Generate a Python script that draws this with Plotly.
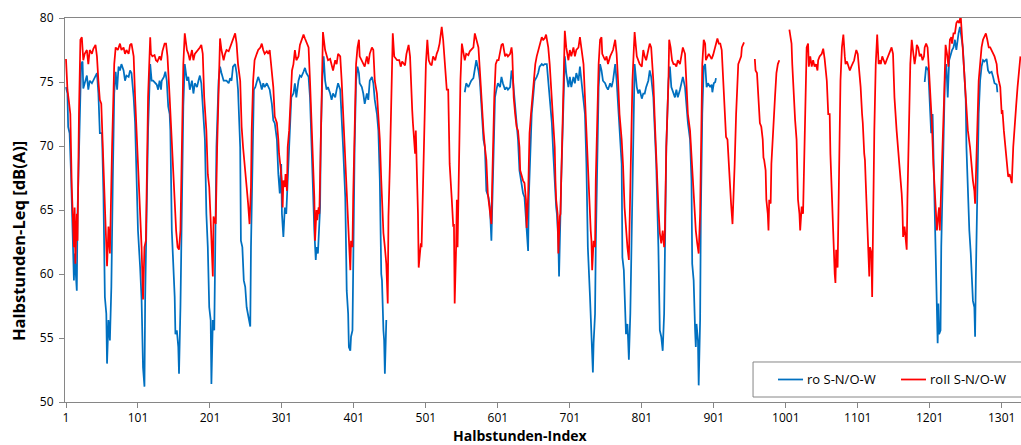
import plotly.graph_objects as go

# Halbstunden-Index -> Leq [dB(A)], one list of (index, value) pairs per continuous run.
blue_run_1 = [
    (1, 74.6), (3, 74.1), (4, 71.5), (6, 71.0), (8, 67.8), (9, 65.5), (10, 64.2), (12, 59.5), (13, 61.6),
    (14, 60.5), (16, 58.7), (17, 64.7), (19, 69.9), (21, 75.1), (22, 76.4), (24, 76.6), (25, 74.5), (27, 74.9),
    (30, 75.5), (32, 74.4), (34, 75.1), (37, 74.9), (39, 75.1), (41, 75.4), (44, 75.7), (46, 74.1), (48, 71.0),
    (51, 71.0), (53, 66.3), (55, 58.2), (57, 56.9), (58, 53.0), (60, 56.4), (62, 54.8), (64, 59.0), (66, 67.3),
    (68, 74.1), (70, 75.8), (72, 74.4), (74, 76.2), (76, 75.9), (78, 76.4), (81, 75.9), (83, 75.1), (85, 75.5),
    (88, 75.4), (90, 75.9), (92, 75.7), (95, 73.8), (97, 71.8), (99, 67.8), (101, 63.4), (104, 60.5), (106, 58.0),
    (108, 52.7), (110, 51.2), (111, 58.2), (113, 64.7), (115, 71.2), (118, 76.4), (120, 75.1), (122, 75.1),
    (125, 74.9), (127, 74.8), (129, 74.4), (131, 75.1), (133, 74.4), (134, 75.1), (137, 75.4), (139, 75.8),
    (141, 75.1), (143, 73.1), (145, 72.5), (146, 71.2), (148, 63.4), (150, 60.8), (152, 58.2), (153, 55.3),
    (155, 55.6), (157, 54.3), (158, 52.2), (160, 57.4), (162, 64.7), (164, 73.1), (166, 76.4), (169, 75.1),
    (171, 75.4), (173, 74.4), (176, 75.1), (178, 74.1), (180, 74.9), (183, 74.6), (185, 75.1), (187, 75.5),
    (189, 74.9), (192, 72.5), (194, 70.5), (196, 64.7), (198, 62.1), (200, 57.4), (202, 56.4), (203, 51.4),
    (205, 56.4), (207, 55.6), (208, 62.1), (210, 69.9), (213, 75.1), (215, 76.2), (217, 75.7), (220, 75.1),
    (222, 75.1), (224, 75.1), (227, 74.9), (229, 75.3), (231, 75.1), (233, 76.2), (236, 76.4), (238, 75.7),
    (240, 74.4), (243, 69.9), (244, 62.6), (246, 62.1), (248, 59.5), (250, 59.0), (252, 57.4), (254, 56.9),
    (257, 55.9), (258, 62.1), (260, 69.9), (262, 74.4), (264, 74.6), (266, 75.1), (268, 75.4), (271, 74.9),
    (273, 74.4), (275, 74.9), (277, 74.6), (280, 74.9), (282, 74.6), (284, 74.4), (287, 73.3), (289, 72.0),
    (291, 71.8), (294, 70.5), (296, 67.8), (298, 66.3), (300, 68.6), (301, 64.7), (303, 62.9), (305, 65.2),
    (307, 64.7), (308, 66.0), (310, 68.6), (312, 71.2), (314, 73.8), (317, 74.1), (319, 74.9), (321, 73.8),
    (324, 75.1), (326, 75.5), (328, 75.4), (331, 75.8), (333, 76.1), (335, 75.7), (338, 75.4), (340, 73.8),
    (342, 69.9), (345, 65.8), (346, 63.4), (348, 61.1), (349, 62.1), (351, 61.6), (352, 63.4), (354, 65.2),
    (355, 70.5), (357, 75.1), (359, 77.0), (361, 75.1), (363, 74.4), (365, 74.6), (368, 74.1), (370, 73.6),
    (372, 74.1), (375, 73.8), (377, 74.4), (379, 74.9), (382, 74.4), (384, 72.5), (386, 69.9), (389, 66.0),
    (391, 58.7), (393, 56.9), (394, 54.3), (396, 54.0), (397, 55.1), (399, 55.6), (400, 62.1), (402, 69.9),
    (404, 75.1), (406, 76.2), (408, 75.7), (409, 74.9), (412, 74.6), (414, 74.1), (416, 73.3), (419, 74.1),
    (421, 73.6), (423, 75.1), (426, 75.4), (428, 74.9), (430, 73.6), (433, 72.5), (435, 71.2), (437, 67.3),
    (439, 60.0), (440, 59.5), (442, 55.6), (443, 54.8), (444, 52.2), (445, 55.6), (446, 56.4),
]

blue_run_2 = [
    (555, 74.2), (557, 74.9), (560, 74.6), (562, 74.9), (564, 75.1), (567, 75.3), (569, 76.2), (571, 76.7),
    (574, 75.9), (576, 75.1), (578, 73.3), (581, 70.5), (583, 69.9), (585, 66.5), (588, 66.0), (590, 65.2),
    (592, 62.6), (594, 66.8), (595, 69.9), (597, 73.8), (599, 74.4), (601, 74.9), (604, 74.6), (606, 75.4),
    (608, 74.9), (611, 74.4), (613, 74.6), (615, 74.4), (618, 74.6), (620, 75.9), (622, 75.1), (625, 72.8),
    (627, 71.8), (629, 70.5), (631, 68.1), (634, 66.8), (636, 66.3), (638, 66.0), (641, 63.9), (643, 61.8),
    (644, 66.0), (646, 69.9), (648, 72.5), (650, 73.8), (652, 75.1), (655, 75.4), (657, 75.7), (659, 76.2),
    (662, 76.4), (664, 76.3), (666, 76.4), (669, 76.4), (671, 75.1), (673, 73.8), (676, 71.8), (678, 69.4),
    (680, 66.8), (682, 65.2), (683, 64.7), (685, 62.6), (686, 59.8), (687, 63.4), (689, 67.3), (692, 73.1),
    (694, 77.0), (696, 75.7), (699, 74.6), (701, 75.4), (703, 74.6), (706, 75.4), (708, 74.9), (710, 75.7),
    (713, 75.1), (715, 76.2), (717, 75.1), (720, 73.8), (722, 72.5), (724, 68.6), (726, 62.1), (729, 58.2),
    (730, 56.4), (731, 55.3), (733, 52.3), (734, 54.6), (736, 56.9), (737, 62.1), (739, 69.9), (741, 74.6),
    (743, 76.4), (745, 75.9), (747, 75.1), (750, 74.9), (752, 74.6), (754, 74.4), (757, 74.9), (759, 74.6),
    (761, 75.1), (764, 76.4), (766, 75.1), (768, 73.1), (770, 71.2), (773, 68.6), (774, 61.3), (775, 60.8),
    (776, 60.3), (779, 55.3), (781, 56.1), (782, 54.8), (783, 53.3), (785, 56.9), (787, 63.4), (789, 71.2),
    (791, 76.4), (794, 74.6), (796, 74.1), (798, 74.4), (801, 73.7), (803, 74.1), (805, 74.1), (807, 74.6),
    (810, 75.1), (812, 75.9), (814, 75.4), (817, 73.8), (819, 71.2), (821, 68.6), (824, 62.1), (826, 55.6),
    (828, 55.1), (830, 54.0), (832, 56.9), (833, 63.4), (835, 69.9), (838, 75.1), (840, 76.2), (842, 74.6),
    (845, 74.1), (847, 73.8), (849, 74.4), (851, 73.8), (854, 74.4), (856, 74.9), (858, 75.4), (861, 74.6),
    (863, 72.8), (865, 71.8), (868, 70.5), (870, 67.3), (871, 60.8), (873, 59.5), (875, 55.6), (876, 54.3),
    (877, 56.1), (879, 54.8), (880, 51.3), (882, 56.4), (883, 64.7), (885, 72.5), (887, 76.2), (889, 76.4),
    (891, 74.6), (893, 74.9), (896, 74.6), (898, 74.8), (899, 74.2), (901, 74.9), (903, 75.0), (904, 75.3),
]

blue_run_3 = [
    (1194, 75.0), (1196, 76.2), (1199, 75.9), (1201, 73.8), (1203, 71.0), (1205, 72.5), (1207, 67.3),
    (1208, 63.4), (1210, 59.5), (1211, 56.9), (1212, 54.6), (1213, 57.7), (1214, 55.3), (1216, 55.6),
    (1217, 62.1), (1220, 69.9), (1222, 75.1), (1224, 76.4), (1226, 73.8), (1228, 76.7), (1230, 77.2),
    (1232, 77.5), (1234, 77.7), (1236, 78.3), (1238, 77.5), (1240, 78.5), (1241, 78.8), (1243, 79.3),
    (1245, 78.5), (1247, 77.7), (1249, 75.7), (1251, 73.6), (1252, 69.9), (1254, 66.0), (1256, 63.4),
    (1258, 61.6), (1260, 59.0), (1261, 57.9), (1263, 57.4), (1264, 55.1), (1265, 59.5), (1267, 67.3),
    (1269, 72.5), (1271, 75.1), (1273, 76.2), (1275, 76.7), (1277, 76.6), (1280, 76.8), (1282, 75.9),
    (1284, 75.7), (1287, 75.8), (1289, 75.4), (1291, 74.9), (1294, 74.8), (1295, 74.2),
]

red_run_1 = [
    (1, 76.8), (3, 74.4), (5, 73.5), (7, 72.5), (9, 66.8), (10, 64.7), (12, 62.1), (13, 65.2), (14, 60.8),
    (16, 64.7), (17, 62.6), (19, 72.5), (21, 78.3), (23, 78.5), (25, 76.7), (27, 77.2), (30, 77.5), (32, 76.4),
    (34, 77.5), (37, 77.2), (39, 77.6), (42, 77.9), (44, 77.0), (46, 75.1), (48, 73.6), (50, 73.3), (52, 69.9),
    (54, 67.3), (56, 64.2), (58, 60.6), (59, 62.1), (60, 63.7), (62, 61.6), (63, 63.7), (65, 69.9), (68, 76.4),
    (70, 77.7), (73, 77.5), (76, 78.0), (78, 77.5), (81, 77.7), (83, 77.2), (85, 77.5), (88, 77.2), (90, 77.9),
    (92, 78.0), (95, 77.0), (97, 73.8), (99, 71.2), (101, 69.0), (103, 67.0), (106, 62.1), (108, 58.0),
    (110, 62.1), (112, 62.6), (113, 67.3), (115, 73.8), (118, 78.5), (119, 77.2), (121, 77.0), (124, 77.1),
    (126, 76.7), (128, 76.6), (131, 77.0), (133, 76.7), (135, 77.4), (138, 78.0), (140, 78.0), (142, 77.0),
    (145, 73.8), (147, 71.2), (149, 69.1), (152, 66.0), (154, 63.4), (156, 62.1), (158, 61.9), (160, 63.4),
    (162, 69.9), (164, 76.4), (166, 78.8), (169, 77.5), (171, 77.2), (173, 76.7), (176, 77.5), (178, 76.7),
    (180, 77.2), (183, 77.4), (185, 77.5), (187, 77.7), (189, 77.9), (191, 77.2), (193, 73.8), (196, 71.2),
    (198, 67.8), (200, 66.8), (202, 64.2), (203, 62.1), (205, 59.8), (206, 64.5), (208, 64.2), (209, 63.9),
    (211, 69.9), (214, 76.4), (215, 78.4), (217, 77.5), (220, 76.7), (222, 77.2), (224, 77.5), (227, 77.4),
    (229, 77.7), (231, 78.0), (233, 78.3), (236, 78.8), (238, 78.0), (240, 76.4), (243, 75.1), (245, 71.5),
    (247, 69.9), (250, 67.6), (252, 66.8), (254, 65.5), (256, 63.9), (258, 66.8), (259, 71.2), (261, 75.1),
    (263, 76.7), (266, 77.2), (268, 77.5), (271, 77.7), (273, 78.0), (275, 77.5), (277, 77.2), (280, 77.4),
    (282, 77.2), (284, 77.5), (287, 76.0), (289, 74.6), (291, 72.3), (294, 71.8), (296, 70.5), (297, 69.4),
    (299, 68.4), (301, 67.1), (302, 65.2), (303, 67.3), (305, 66.8), (306, 67.8), (308, 66.5), (309, 69.9),
    (311, 71.2), (313, 73.8), (315, 75.9), (317, 76.4), (319, 77.5), (321, 76.7), (324, 77.0), (326, 77.9),
    (328, 78.3), (331, 78.7), (333, 78.4), (335, 78.1), (338, 77.7), (340, 75.1), (342, 72.5), (345, 68.6),
    (346, 66.0), (347, 62.6), (349, 65.0), (350, 64.2), (352, 65.2), (353, 64.7), (354, 67.3), (356, 72.5),
    (357, 77.7), (358, 78.9), (361, 77.5), (363, 77.0), (365, 76.7), (368, 76.8), (370, 76.4), (372, 75.9),
    (375, 76.7), (377, 76.4), (379, 77.2), (382, 77.0), (384, 75.1), (386, 72.5), (389, 69.9), (391, 66.0),
    (393, 64.2), (394, 63.2), (396, 60.3), (397, 62.6), (399, 62.1), (400, 66.0), (402, 71.8), (404, 76.4),
    (406, 77.7), (408, 78.3), (409, 77.0), (412, 76.7), (414, 76.4), (416, 76.2), (419, 77.0), (421, 76.4),
    (423, 77.2), (426, 77.7), (428, 77.5), (430, 75.1), (433, 74.1), (435, 72.5), (437, 70.5), (439, 67.3),
    (442, 63.2), (444, 62.1), (446, 60.8), (448, 57.7), (449, 64.5), (451, 68.6), (453, 74.4), (455, 78.8),
    (457, 77.0), (459, 76.8), (461, 76.7), (464, 76.7), (466, 76.2), (468, 76.6), (470, 76.4), (472, 76.3),
    (474, 77.2), (477, 77.9), (479, 77.0), (480, 75.1), (482, 72.8), (483, 71.8), (485, 69.9), (486, 69.4),
    (487, 71.2), (489, 67.3), (490, 64.7), (491, 60.5), (493, 62.1), (494, 62.4), (495, 62.1), (497, 67.3),
    (499, 72.5), (501, 76.4), (503, 78.3), (505, 76.7), (507, 76.4), (509, 76.3), (511, 77.0), (514, 76.7),
    (516, 77.2), (518, 77.5), (520, 78.0), (523, 79.3), (525, 78.3), (527, 76.4), (530, 74.4), (532, 74.4),
    (534, 68.6), (537, 65.8), (539, 63.7), (540, 63.9), (541, 57.7), (543, 62.1), (544, 65.8), (545, 62.1),
    (547, 69.9), (549, 75.1), (551, 78.0), (553, 77.2), (555, 76.7), (557, 77.2), (560, 77.1), (562, 77.4),
    (564, 77.5), (567, 77.7), (569, 78.8), (571, 78.3), (574, 77.7), (576, 75.9), (578, 73.8), (581, 71.2),
    (583, 69.9), (585, 68.9), (587, 66.3), (588, 65.8), (590, 65.2), (592, 63.9), (593, 66.8), (594, 69.9),
    (596, 73.8), (598, 76.4), (600, 76.7), (602, 76.7), (604, 77.5), (606, 77.9), (608, 78.0), (611, 77.0),
    (613, 77.2), (615, 77.0), (618, 77.2), (620, 77.7), (621, 77.2), (623, 73.8), (625, 72.5), (627, 71.5),
    (629, 71.2), (631, 69.9), (632, 68.1), (634, 67.6), (636, 67.3), (638, 67.1), (640, 65.8), (641, 63.6),
    (643, 66.0), (644, 68.6), (645, 71.0), (647, 72.5), (649, 73.8), (651, 75.7), (653, 76.4), (655, 77.0),
    (657, 77.5), (659, 78.0), (662, 78.5), (664, 78.3), (666, 78.4), (668, 78.7), (671, 77.7), (673, 76.4),
    (676, 73.8), (678, 71.2), (680, 69.9), (681, 67.3), (682, 65.8), (684, 64.7), (685, 61.6), (687, 64.5),
    (688, 64.7), (689, 67.3), (691, 72.5), (693, 77.7), (694, 79.0), (696, 77.7), (699, 76.7), (701, 77.5),
    (703, 77.0), (706, 77.7), (708, 77.0), (710, 77.5), (713, 77.7), (715, 78.5), (717, 77.7), (720, 76.4),
    (722, 73.8), (724, 71.2), (726, 67.8), (728, 64.7), (730, 63.4), (731, 62.6), (732, 60.3), (734, 62.6),
    (736, 62.1), (737, 67.3), (739, 72.5), (741, 76.4), (743, 78.3), (745, 78.5), (746, 77.2), (748, 77.0),
    (750, 76.7), (752, 77.0), (754, 76.4), (757, 77.0), (759, 77.2), (761, 77.5), (764, 78.3), (766, 77.2),
    (768, 75.1), (770, 72.5), (773, 70.5), (775, 68.4), (777, 65.2), (779, 63.7), (780, 62.4), (781, 62.1),
    (783, 61.1), (784, 64.2), (786, 69.9), (788, 75.1), (790, 77.7), (791, 78.9), (794, 77.0), (796, 76.7),
    (798, 76.4), (801, 76.2), (803, 77.5), (805, 77.0), (807, 76.7), (810, 77.5), (812, 78.0), (814, 77.7),
    (817, 75.1), (819, 72.0), (821, 68.6), (824, 65.2), (826, 63.2), (828, 62.4), (830, 63.4), (832, 62.1),
    (833, 63.2), (835, 69.9), (838, 75.1), (839, 78.3), (841, 77.7), (843, 76.7), (845, 76.4), (847, 76.4),
    (849, 76.2), (851, 76.7), (854, 76.4), (856, 77.2), (858, 77.7), (861, 77.2), (863, 75.1), (865, 72.5),
    (868, 71.2), (870, 69.1), (872, 66.8), (875, 64.7), (876, 63.4), (878, 62.4), (880, 61.6), (882, 64.7),
    (883, 69.9), (885, 76.4), (887, 78.3), (889, 78.0), (890, 76.7), (892, 77.0), (894, 77.2), (896, 77.0),
    (898, 76.8), (900, 77.1), (902, 77.5), (905, 78.3), (906, 78.4), (908, 78.0), (910, 78.0), (912, 77.5),
    (914, 75.1), (915, 73.6), (917, 71.2), (918, 70.7), (920, 70.5), (921, 69.4), (922, 68.4), (924, 66.0),
    (925, 65.5), (927, 63.9), (928, 66.3), (930, 68.6), (932, 72.5), (934, 75.1), (935, 76.4), (937, 76.7),
    (939, 77.0), (940, 77.7), (942, 78.1), (943, 78.1),
]

red_run_2 = [
    (958, 76.8), (959, 75.9), (961, 75.7), (963, 74.1), (965, 71.8), (967, 71.5), (969, 70.5), (970, 69.1),
    (971, 68.9), (973, 68.1), (974, 65.8), (976, 64.7), (977, 63.4), (978, 65.8), (980, 65.5), (981, 68.6),
    (983, 71.0), (984, 71.2), (986, 73.8), (988, 75.7), (990, 76.4), (992, 76.7),
]

red_run_3 = [
    (1006, 79.1), (1008, 78.3), (1009, 78.0), (1010, 76.4), (1012, 73.8), (1014, 72.0), (1016, 70.5),
    (1017, 68.9), (1018, 65.8), (1020, 64.7), (1021, 63.4), (1023, 65.2), (1024, 65.2), (1025, 64.7),
    (1027, 69.9), (1028, 73.8), (1030, 77.7), (1032, 78.0), (1033, 76.2), (1035, 77.0), (1037, 76.2),
    (1039, 76.7), (1041, 76.2), (1043, 76.4), (1045, 75.9), (1046, 76.7), (1048, 77.0), (1051, 77.2),
    (1053, 77.6), (1055, 76.8), (1058, 75.1), (1060, 72.5), (1062, 72.5), (1063, 69.4), (1065, 66.0),
    (1066, 64.2), (1067, 63.9), (1069, 60.0), (1070, 59.3), (1071, 61.9), (1073, 60.5), (1074, 64.7),
    (1076, 69.9), (1077, 75.1), (1079, 77.7), (1081, 78.7), (1083, 77.0), (1084, 76.4), (1086, 76.6),
    (1088, 76.2), (1090, 75.9), (1092, 76.2), (1094, 76.4), (1096, 76.7), (1097, 77.0), (1099, 77.5),
    (1101, 77.2), (1103, 75.9), (1105, 74.6), (1107, 72.5), (1108, 71.8), (1110, 69.4), (1111, 68.9),
    (1112, 67.3), (1114, 64.5), (1115, 62.1), (1117, 59.8), (1118, 62.1), (1120, 61.6), (1121, 58.2),
    (1122, 64.7), (1124, 71.2), (1126, 76.4), (1128, 78.7), (1130, 76.4), (1132, 76.7), (1133, 76.4),
    (1135, 77.0), (1137, 76.7), (1139, 76.4), (1141, 76.7), (1143, 77.0), (1146, 77.5), (1148, 77.7),
    (1150, 77.2), (1152, 73.8), (1155, 71.2), (1157, 69.9), (1159, 68.9), (1162, 66.3), (1163, 65.2),
    (1164, 62.9), (1166, 63.7), (1167, 63.2), (1169, 61.9), (1170, 65.8), (1172, 71.2), (1174, 76.4),
    (1176, 78.3), (1178, 77.5), (1180, 76.4), (1182, 77.2), (1183, 77.9), (1185, 77.7), (1187, 77.0),
    (1189, 77.2), (1191, 76.7), (1193, 77.0), (1194, 77.7), (1196, 78.0), (1198, 77.7), (1200, 75.9),
    (1202, 73.8), (1204, 71.8), (1206, 68.6), (1208, 66.0), (1209, 64.7), (1211, 63.4), (1213, 64.7),
    (1214, 65.2), (1215, 63.4), (1216, 64.7), (1218, 68.6), (1221, 73.8), (1223, 77.9), (1225, 77.2),
    (1227, 76.2), (1229, 78.3), (1231, 78.5), (1232, 78.0), (1234, 78.8), (1236, 78.8), (1238, 79.6),
    (1240, 79.8), (1242, 79.6), (1244, 80.2), (1245, 79.3), (1246, 78.3), (1248, 76.4), (1250, 74.6),
    (1252, 72.5), (1254, 71.2), (1257, 69.9), (1259, 68.4), (1261, 67.3), (1263, 66.5), (1264, 65.5),
    (1265, 67.3), (1267, 72.5), (1269, 75.1), (1271, 76.4), (1273, 77.7), (1275, 78.3), (1277, 78.5),
    (1279, 78.8), (1281, 78.3), (1283, 77.7), (1285, 77.7), (1287, 77.5), (1289, 77.2), (1291, 77.0),
    (1294, 76.4), (1295, 75.7), (1297, 75.1), (1299, 74.6), (1301, 72.5), (1302, 72.8), (1304, 71.2),
    (1306, 69.9), (1308, 68.6), (1310, 67.6), (1312, 67.8), (1314, 67.3), (1315, 67.1), (1317, 69.9),
    (1319, 72.0), (1321, 73.1), (1323, 74.6), (1325, 75.9), (1327, 77.0),
]

x_tick_values = list(range(1, 1302, 100))
y_tick_values = [50, 55, 60, 65, 70, 75, 80]

series = [
    ("ro S-N/O-W", "#0070C0", [blue_run_1, blue_run_2, blue_run_3]),
    ("roII S-N/O-W", "#FF0000", [red_run_1, red_run_2, red_run_3]),
]


def join_runs(runs):
    """Concatenate runs, separating them with a None so the line breaks."""
    xs, ys = [], []
    for k, run in enumerate(runs):
        if k:
            xs.append((xs[-1] + run[0][0]) / 2)
            ys.append(None)
        xs.extend(p[0] for p in run)
        ys.extend(p[1] for p in run)
    return xs, ys


FONT = "Open Sans, Noto Sans, sans-serif"
AXIS_GREY = "#868686"

fig = go.Figure()
for name, colour, runs in series:
    xs, ys = join_runs(runs)
    fig.add_trace(go.Scatter(
        x=xs, y=ys, name=name, mode="lines", connectgaps=False,
        line=dict(color=colour, width=1.75),
    ))

fig.update_layout(
    width=1021, height=445,
    margin=dict(l=65, r=0, t=18, b=43),
    paper_bgcolor="white", plot_bgcolor="white",
    showlegend=False,
    font=dict(family=FONT, size=12, color="#000000"),
)

fig.update_xaxes(
    range=[-0.39, 1327.8],
    tickmode="array", tickvals=x_tick_values, ticktext=[str(v) for v in x_tick_values],
    ticks="outside", ticklen=5, tickcolor=AXIS_GREY,
    showline=True, linecolor=AXIS_GREY, linewidth=1, mirror=True,
    showgrid=False, zeroline=False,
    tickfont=dict(size=12),
)
fig.update_yaxes(
    range=[50, 80],
    tickmode="array", tickvals=y_tick_values,
    ticks="outside", ticklen=5, tickcolor=AXIS_GREY, ticklabelstandoff=3,
    showline=True, linecolor=AXIS_GREY, linewidth=1,
    showgrid=False, zeroline=False,
    tickfont=dict(size=12),
)

# Axis titles
fig.add_annotation(xref="paper", yref="paper", x=0.476, y=-0.0885,
                   xanchor="center", yanchor="middle", showarrow=False, borderpad=0,
                   text="<b>Halbstunden-Index</b>", font=dict(size=14))
fig.add_annotation(xref="paper", yref="paper", x=-0.0492, y=0.419,
                   xanchor="center", yanchor="middle", showarrow=False, textangle=-90,
                   text="<b>Halbstunden-Leq [dB(A)]</b>", font=dict(size=16.5))

# Legend box along the bottom right, running past the figure's right edge.
fig.add_shape(type="rect", xref="paper", yref="paper",
              x0=0.7197, x1=1.05, y0=0.013, y1=0.1042,
              line=dict(color=AXIS_GREY, width=1), fillcolor="white", layer="above")
legend_entries = [
    ("ro S-N/O-W", "#0070C0", 0.7458, 0.7720),
    ("roII S-N/O-W", "#FF0000", 0.8745, 0.9006),
]
for label, colour, lx0, lx1 in legend_entries:
    fig.add_shape(type="line", xref="paper", yref="paper",
                  x0=lx0, x1=lx1, y0=0.0586, y1=0.0586,
                  line=dict(color=colour, width=1.75), layer="above")
    fig.add_annotation(xref="paper", yref="paper", x=lx1 + 0.002, y=0.0586,
                       xanchor="left", yanchor="middle", text=label, showarrow=False,
                       font=dict(size=13, color="#000000"))

fig.write_html("out.html")
